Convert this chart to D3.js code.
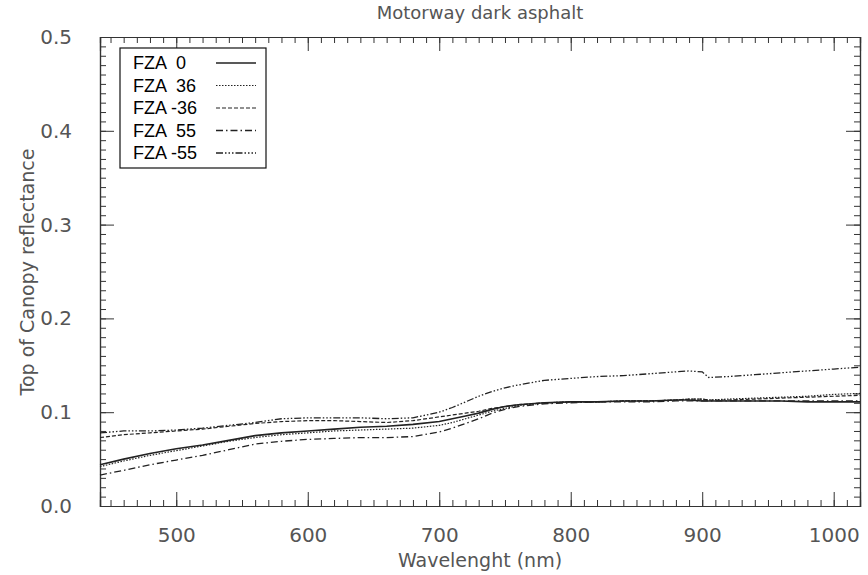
<!DOCTYPE html>
<html>
<head>
<meta charset="utf-8">
<script src="https://cdn.jsdelivr.net/npm/d3@7"></script>
<style>
  body { margin: 0; background: #fff; }
  .lbl { font-family: "DejaVu Sans", sans-serif; fill: #555; }
  .leg { font-family: "Liberation Sans", Arial, sans-serif; fill: #000; font-size: 18px; }
</style>
</head>
<body>
<div id="chart"></div>
<script>
// wavelengths (nm)
var wavelength = [442, 460, 480, 500, 520, 540, 560, 580, 600, 620, 640, 660, 680, 700, 710, 720, 730, 740, 750, 760, 780, 800, 820, 840, 860, 880, 890, 900, 905, 920, 940, 960, 980, 1000, 1020];

// reflectance per view angle
var fza0 =   [0.044, 0.050, 0.056, 0.061, 0.065, 0.070, 0.075, 0.078, 0.080, 0.082, 0.084, 0.085, 0.087, 0.090, 0.093, 0.096, 0.099, 0.103, 0.106, 0.108, 0.110, 0.111, 0.111, 0.112, 0.112, 0.113, 0.113, 0.112, 0.112, 0.112, 0.112, 0.112, 0.111, 0.111, 0.111];
var fza36 =  [0.042, 0.048, 0.054, 0.059, 0.064, 0.069, 0.073, 0.076, 0.078, 0.080, 0.081, 0.082, 0.083, 0.086, 0.089, 0.093, 0.097, 0.101, 0.104, 0.107, 0.110, 0.111, 0.111, 0.112, 0.112, 0.113, 0.114, 0.114, 0.113, 0.114, 0.115, 0.116, 0.117, 0.119, 0.120];
var fzaM36 = [0.073, 0.076, 0.078, 0.080, 0.082, 0.085, 0.088, 0.090, 0.091, 0.091, 0.090, 0.089, 0.091, 0.095, 0.097, 0.099, 0.101, 0.104, 0.106, 0.108, 0.110, 0.111, 0.111, 0.112, 0.112, 0.113, 0.114, 0.114, 0.113, 0.113, 0.114, 0.115, 0.116, 0.117, 0.118];
var fza55 =  [0.033, 0.038, 0.044, 0.049, 0.054, 0.060, 0.066, 0.069, 0.071, 0.072, 0.073, 0.073, 0.074, 0.079, 0.083, 0.088, 0.093, 0.099, 0.103, 0.106, 0.109, 0.110, 0.111, 0.111, 0.111, 0.112, 0.112, 0.112, 0.112, 0.112, 0.112, 0.112, 0.112, 0.112, 0.112];
var fzaM55 = [0.078, 0.080, 0.080, 0.081, 0.083, 0.086, 0.089, 0.093, 0.094, 0.094, 0.094, 0.093, 0.094, 0.100, 0.105, 0.111, 0.117, 0.122, 0.126, 0.129, 0.134, 0.136, 0.138, 0.139, 0.141, 0.143, 0.144, 0.143, 0.137, 0.138, 0.140, 0.142, 0.144, 0.146, 0.148];

var seriesNames = ["FZA  0", "FZA  36", "FZA -36", "FZA  55", "FZA -55"];
var seriesValues = [fza0, fza36, fzaM36, fza55, fzaM55];
var xTicks = [500, 600, 700, 800, 900, 1000];
var yTicks = [0.0, 0.1, 0.2, 0.3, 0.4, 0.5];

var dashes = [null, "1.5,1.5", "4,2", "7,3,1.5,3", "7,2,1.5,2,1.5,2,1.5,2"];
var widths = [1.6, 1.2, 1.2, 1.3, 1.3];

var svgWidth = 868;
var svgHeight = 575;
var margin = { top: 37, right: 8, bottom: 69, left: 100 };
var width = svgWidth - margin.left - margin.right;
var height = svgHeight - margin.top - margin.bottom;

var svg = d3.select("#chart")
  .append("svg")
  .attr("width", svgWidth)
  .attr("height", svgHeight);

var chartGroup = svg.append("g")
  .attr("transform", `translate(${margin.left}, ${margin.top})`);

var x = d3.scaleLinear().domain([442, 1020]).range([0, width]);
var y = d3.scaleLinear().domain([0, 0.5]).range([height, 0]);

// minor tick positions
var xMinor = d3.range(450, 1021, 10);
var yMinor = d3.range(0, 0.5001, 0.01);

// bottom axis with labels
chartGroup.append("g")
  .attr("transform", `translate(0, ${height})`)
  .call(d3.axisBottom(x).tickValues(xTicks).tickSize(-14).tickPadding(22).tickFormat(d3.format("d")));
chartGroup.append("g")
  .attr("transform", `translate(0, ${height})`)
  .call(d3.axisBottom(x).tickValues(xMinor).tickSize(-6).tickFormat(""));

// top axis, ticks only
chartGroup.append("g")
  .call(d3.axisTop(x).tickValues(xTicks).tickSize(-14).tickFormat(""));
chartGroup.append("g")
  .call(d3.axisTop(x).tickValues(xMinor).tickSize(-6).tickFormat(""));

// left axis with labels
chartGroup.append("g")
  .call(d3.axisLeft(y).tickValues(yTicks).tickSize(-14).tickPadding(28).tickFormat(d3.format(".1f")));
chartGroup.append("g")
  .call(d3.axisLeft(y).tickValues(yMinor).tickSize(-6).tickFormat(""));

// right axis, ticks only
chartGroup.append("g")
  .attr("transform", `translate(${width}, 0)`)
  .call(d3.axisRight(y).tickValues(yTicks).tickSize(-14).tickFormat(""));
chartGroup.append("g")
  .attr("transform", `translate(${width}, 0)`)
  .call(d3.axisRight(y).tickValues(yMinor).tickSize(-6).tickFormat(""));

chartGroup.selectAll(".domain").attr("stroke", "#333").attr("stroke-width", 1.2);
chartGroup.selectAll(".tick line").attr("stroke", "#333");
chartGroup.selectAll(".tick text")
  .attr("class", "lbl")
  .attr("font-size", 20)
  .attr("fill", "#555");

// lines
var line = d3.line()
  .x((d, i) => x(wavelength[i]))
  .y(d => y(d));

seriesValues.forEach(function(vals, k) {
  chartGroup.append("path")
    .datum(vals)
    .attr("fill", "none")
    .attr("stroke", "#222")
    .attr("stroke-width", widths[k])
    .attr("stroke-dasharray", dashes[k])
    .attr("d", line);
});

// legend
var legend = svg.append("g").attr("transform", "translate(120, 48)");
legend.append("rect")
  .attr("width", 146).attr("height", 120)
  .attr("fill", "#fff").attr("stroke", "#111").attr("stroke-width", 1.2);
seriesNames.forEach(function(name, k) {
  var ly = 15 + k * 22.5;
  legend.append("text")
    .attr("class", "leg")
    .attr("x", 13).attr("y", ly + 6)
    .attr("xml:space", "preserve")
    .style("white-space", "pre")
    .text(name);
  legend.append("line")
    .attr("x1", 96).attr("x2", 136)
    .attr("y1", ly).attr("y2", ly)
    .attr("stroke", "#222")
    .attr("stroke-width", widths[k])
    .attr("stroke-dasharray", dashes[k]);
});

// title and axis labels
svg.append("text")
  .attr("class", "lbl")
  .attr("x", margin.left + width / 2).attr("y", 19)
  .attr("text-anchor", "middle")
  .attr("font-size", 18)
  .text("Motorway dark asphalt");

svg.append("text")
  .attr("class", "lbl")
  .attr("transform", "rotate(-90)")
  .attr("x", -272).attr("y", 34)
  .attr("text-anchor", "middle")
  .attr("font-size", 19)
  .text("Top of Canopy reflectance");

svg.append("text")
  .attr("class", "lbl")
  .attr("x", margin.left + width / 2).attr("y", 567)
  .attr("text-anchor", "middle")
  .attr("font-size", 19)
  .text("Wavelenght (nm)");
</script>
</body>
</html>
